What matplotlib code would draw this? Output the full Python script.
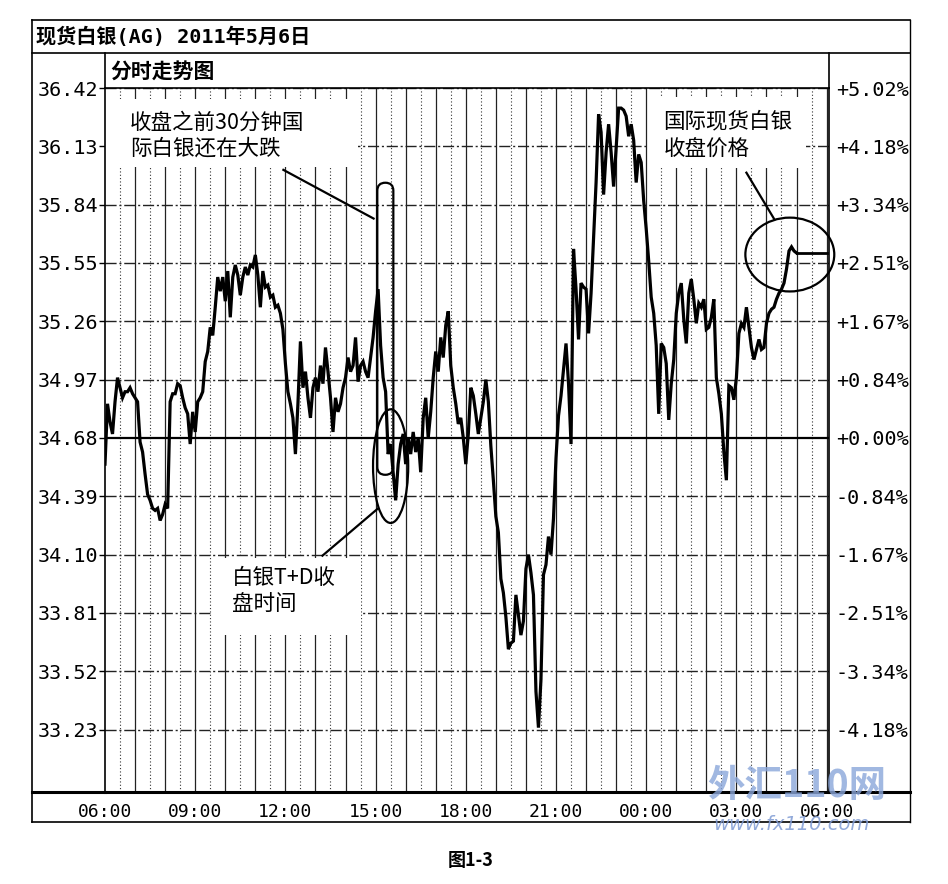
import numpy as np
import matplotlib
matplotlib.use("Agg")
import matplotlib.pyplot as plt
from matplotlib.patches import Ellipse, FancyBboxPatch, Rectangle
from matplotlib.lines import Line2D

plt.rcParams['font.family'] = ['DejaVu Sans Mono', 'Noto Sans CJK SC']
CJK = ['Noto Sans CJK SC', 'DejaVu Sans']

W, H = 948, 884

# silver spot price, one value every 5 minutes starting 06:00
step_min = 5
base_price = 34.68

price_0600_1200 = [
    34.55, 34.85, 34.76, 34.70, 34.86, 34.98, 34.93, 34.88, 34.91, 34.91,
    34.93, 34.90, 34.88, 34.86, 34.66, 34.61, 34.50, 34.40, 34.37, 34.33,
    34.32, 34.33, 34.27, 34.30, 34.35, 34.33, 34.86, 34.90, 34.90, 34.95,
    34.94, 34.88, 34.83, 34.80, 34.65, 34.81, 34.71, 34.86, 34.88, 34.91,
    35.06, 35.11, 35.23, 35.19, 35.33, 35.48, 35.41, 35.48, 35.36, 35.51,
    35.28, 35.48, 35.54, 35.49, 35.39, 35.48, 35.53, 35.49, 35.54, 35.53,
    35.59, 35.49, 35.33, 35.51, 35.43, 35.44, 35.38, 35.39, 35.33, 35.34,
    35.30, 35.22,
]
price_1200_1800 = [
    35.05, 34.91, 34.85, 34.78, 34.60, 34.85, 35.16, 34.93, 35.01, 34.88,
    34.78, 34.93, 34.98, 34.91, 35.04, 34.95, 35.13, 35.01, 34.88, 34.71,
    34.88, 34.81, 34.85, 34.93, 34.98, 35.08, 35.01, 35.04, 35.18, 34.96,
    35.04, 35.06, 35.01, 34.98, 35.08, 35.18, 35.31, 35.42, 35.14, 34.98,
    34.91, 34.60, 34.65, 34.51, 34.37, 34.55, 34.65, 34.70, 34.55, 34.68,
    34.60, 34.71, 34.61, 34.68, 34.51, 34.78, 34.88, 34.68, 34.81, 34.98,
    35.11, 35.01, 35.18, 35.08, 35.24, 35.31, 35.04, 34.93, 34.85, 34.75,
    34.78, 34.68,
]
price_1800_0000 = [
    34.55, 34.70, 34.93, 34.89, 34.80, 34.70, 34.78, 34.86, 34.97, 34.86,
    34.64, 34.47, 34.29, 34.21, 33.98, 33.91, 33.79, 33.63, 33.66, 33.67,
    33.90, 33.80, 33.70, 33.77, 34.03, 34.10, 34.01, 33.90, 33.42, 33.24,
    33.48, 34.00, 34.05, 34.19, 34.10, 34.28, 34.58, 34.79, 34.89, 35.02,
    35.15, 34.95, 34.65, 35.62, 35.42, 35.17, 35.45, 35.43, 35.42, 35.20,
    35.40, 35.68, 35.95, 36.29, 36.20, 35.89, 36.10, 36.24, 36.10, 35.93,
    36.12, 36.32, 36.32, 36.31, 36.28, 36.18, 36.24, 36.16, 35.95, 36.09,
    36.05, 35.86,
]
price_0000_0500 = [
    35.72, 35.56, 35.38, 35.30, 35.14, 34.80, 35.15, 35.13, 35.05, 34.77,
    34.95, 35.07, 35.30, 35.40, 35.45, 35.27, 35.15, 35.40, 35.47, 35.37,
    35.25, 35.35, 35.33, 35.37, 35.22, 35.23, 35.28, 35.37, 34.98, 34.90,
    34.80, 34.61, 34.47, 34.94, 34.93, 34.87, 34.98, 35.20, 35.25, 35.23,
    35.33, 35.23, 35.13, 35.07, 35.12, 35.17, 35.12, 35.13, 35.25, 35.30,
    35.32, 35.33, 35.37, 35.40, 35.42, 35.45, 35.52, 35.61, 35.63, 35.61,
    35.60,
]

y_ticks = [36.42, 36.13, 35.84, 35.55, 35.26, 34.97, 34.68,
           34.39, 34.10, 33.81, 33.52, 33.23]
x_tick_hours = [0, 3, 6, 9, 12, 15, 18, 21, 24]
x_tick_labels = ["06:00", "09:00", "12:00", "15:00", "18:00",
                 "21:00", "00:00", "03:00", "06:00"]
session_hours = 24

price = np.array(price_0600_1200 + price_1200_1800 + price_1800_0000 + price_0000_0500)
t_hours = np.arange(len(price)) * step_min / 60.0


def fpos(x, y):
    return x / W, 1 - y / H


fig = plt.figure(figsize=(W / 100, H / 100), dpi=100)
fig.patch.set_facecolor('white')

ax = fig.add_axes([105 / W, 1 - 792 / H, (829 - 105) / W, (792 - 88) / H])
ax.set_xlim(0, 24.08)
ax.set_ylim(32.92, 36.42)

# grid: solid every hour, dotted every half hour
for h in range(1, session_hours + 1):
    ax.axvline(h, color='#222222', lw=0.9, zorder=1)
for h in np.arange(0.5, session_hours, 1.0):
    ax.axvline(h, color='#333333', lw=0.8, ls=(0, (1, 2)), zorder=1)
for p in y_ticks:
    if p == base_price:
        ax.axhline(p, color='black', lw=1.6, zorder=1)
    else:
        ax.axhline(p, color='#222222', lw=1.0, ls=(0, (8, 2, 1.5, 2)), zorder=1)

# white boxes behind the notes
ax.add_patch(Rectangle((0, 36.028), 8.43, 0.337, facecolor='white', edgecolor='none', zorder=2))
ax.add_patch(Rectangle((3.6, 33.70), 4.9, 0.385, facecolor='white', edgecolor='none', zorder=2))
ax.add_patch(Rectangle((18.1, 36.02), 5.23, 0.355, facecolor='white', edgecolor='none', zorder=2))

# price line + flat line after the close
ax.plot(t_hours, price, color='black', lw=2.3, zorder=3, solid_joinstyle='miter')
ax.plot([t_hours[-1], session_hours], [price[-1], price[-1]], color='black', lw=2.0, zorder=3)

# notes
ax.text(0.83, 36.246, "收盘之前30分钟国", family=CJK, fontsize=15.5, va='center', zorder=4)
ax.text(0.83, 36.118, "际白银还在大跌", family=CJK, fontsize=15.5, va='center', zorder=4)
ax.text(4.23, 33.986, "白银T+D收", family=CJK, fontsize=15.5, va='center', zorder=4)
ax.text(4.23, 33.857, "盘时间", family=CJK, fontsize=15.5, va='center', zorder=4)
ax.text(18.57, 36.256, "国际现货白银", family=CJK, fontsize=15.5, va='center', zorder=4)
ax.text(18.57, 36.113, "收盘价格", family=CJK, fontsize=15.5, va='center', zorder=4)

ax.add_patch(FancyBboxPatch((9.057, 34.497), 0.533, 1.452,
                            boxstyle="round,pad=0,rounding_size=0.266",
                            mutation_aspect=0.1487, fill=False,
                            edgecolor='black', lw=1.6, zorder=4))
ax.add_patch(Ellipse((9.5, 34.54), 1.17, 0.565, fill=False, edgecolor='black', lw=1.6, zorder=4))
ax.add_patch(Ellipse((22.777, 35.592), 2.957, 0.367, fill=False, edgecolor='black',
                     lw=1.6, zorder=4, clip_on=False))
ax.plot([5.933, 8.933], [36.013, 35.771], color='black', lw=1.6, zorder=4)
ax.plot([7.233, 9.067], [34.095, 34.328], color='black', lw=1.6, zorder=4)
ax.plot([21.333, 22.267], [35.999, 35.766], color='black', lw=1.6, zorder=4)

# axes and labels
ax.set_yticks(y_ticks)
ax.set_yticklabels([f"{p:.2f}" for p in y_ticks])
ax.set_xticks(x_tick_hours)
ax.set_xticklabels(x_tick_labels)
ax.tick_params(axis='y', direction='out', length=4, width=1, pad=1, labelsize=14.5)
ax.tick_params(axis='x', length=0, pad=8, labelsize=13)
for s in ax.spines.values():
    s.set_linewidth(1.2)
ax.spines['bottom'].set_linewidth(2.2)

ax2 = ax.twinx()
ax2.set_ylim(ax.get_ylim())
ax2.set_yticks(y_ticks)
ax2.set_yticklabels([f"{(p - base_price) / base_price * 100:+.2f}%" for p in y_ticks])
ax2.tick_params(axis='y', length=0, pad=5, labelsize=14.5)
for s in ax2.spines.values():
    s.set_visible(False)

# frame of the quote window
frame = [
    ((32, 20), (910, 20), 1.2), ((32, 822), (910, 822), 1.2),
    ((32, 20), (32, 822), 1.2), ((910, 20), (910, 822), 1.0),
    ((32, 53), (910, 53), 1.2), ((105, 53), (105, 88), 1.2),
    ((829, 53), (829, 88), 1.2), ((32, 792), (105, 792), 2.2),
    ((829, 792), (910, 792), 2.2),
]
for (x0, y0), (x1, y1), lw in frame:
    a, b = fpos(x0, y0)
    c, d = fpos(x1, y1)
    fig.add_artist(Line2D([a, c], [b, d], transform=fig.transFigure, color='black', lw=lw))

fig.text(*fpos(36, 37), "现货白银(AG) 2011年5月6日", fontsize=14.5, weight='bold', va='center')
fig.text(*fpos(110, 71), "分时走势图", family=CJK, fontsize=15, weight='bold', va='center')
fig.text(*fpos(471, 860), "图1-3", family=CJK, fontsize=13, weight='bold', ha='center', va='center')

# site watermark
fig.text(*fpos(797, 785), "外汇110网", family=CJK, fontsize=27, weight='bold',
         color='#8aa6da', alpha=0.8, ha='center', va='center')
fig.text(*fpos(792, 824), "www.fx110.com", family=['DejaVu Sans'], fontsize=14,
         style='italic', color='#7f9bd4', alpha=0.85, ha='center', va='center')

fig.savefig("out.png", dpi=100)
